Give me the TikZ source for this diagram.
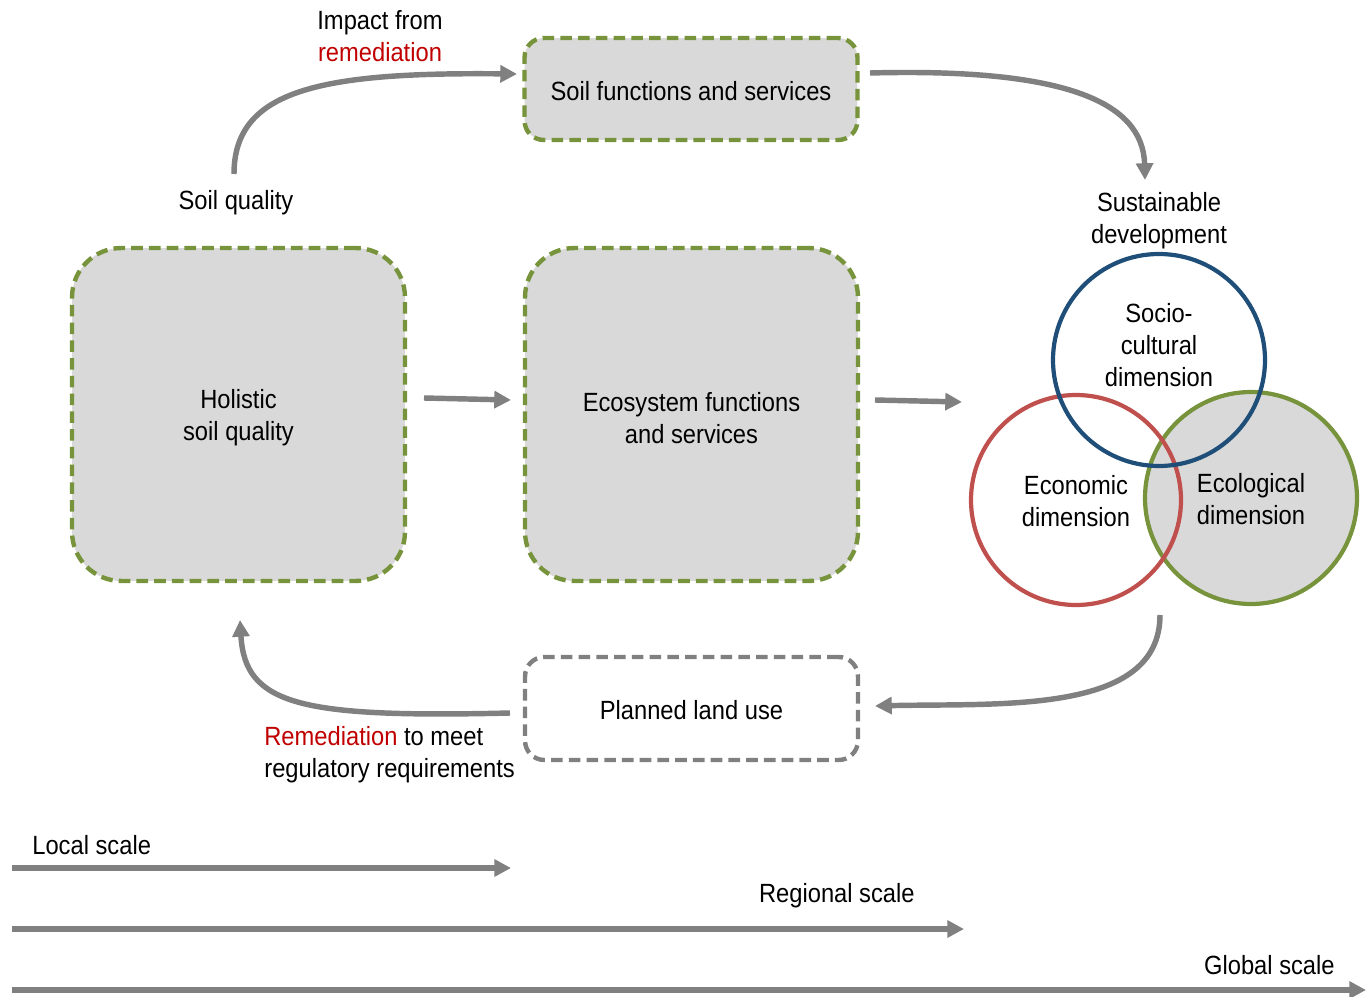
\documentclass[tikz,border=0pt]{standalone}
\usepackage{fontspec}
\setmainfont{Liberation Sans}[FakeStretch=0.9]
\usetikzlibrary{arrows.meta,calc}
\definecolor{boxgreen}{HTML}{77933C}
\definecolor{boxfill}{HTML}{D9D9D9}
\definecolor{flowgray}{HTML}{808080}
\definecolor{remred}{HTML}{C00000}
\definecolor{circblue}{HTML}{1F4E79}
\definecolor{circred}{HTML}{C0504D}
\begin{document}
\begin{tikzpicture}[x=0.02cm,y=-0.02cm,
  every node/.style={font=\fontsize{15}{18.2}\selectfont, align=center, inner sep=0pt},
  greenbox/.style={draw=boxgreen, fill=boxfill, line width=2.5pt,
    dash pattern=on 6.6pt off 3.5pt},
  graybox/.style={draw=flowgray, fill=white, line width=2.5pt,
    dash pattern=on 6.6pt off 3.5pt},
  flow/.style={draw=flowgray, line width=3.1pt,
    -{Triangle[length=9.5pt,width=9.5pt]}},
  ring/.style={line width=2.4pt}]
\useasboundingbox (0,0) rectangle (1366,997);

% boxes
\node[greenbox, rounded corners=11pt, minimum width=6.66cm, minimum height=2.04cm]
  (sfs) at (691,89) {};
\node[greenbox, rounded corners=28pt, minimum width=6.66cm, minimum height=6.66cm]
  (hol) at (238.5,414.5) {};
\node[greenbox, rounded corners=28pt, minimum width=6.66cm, minimum height=6.66cm]
  (eco) at (691.5,414.5) {};
\node[graybox, rounded corners=11pt, minimum width=6.66cm, minimum height=2.06cm]
  (plu) at (691.5,708.5) {};
\node (sfst) at (691,91) {Soil functions and services};
\node (holt) at (238.5,418) {Holistic\\soil quality};
\node (ecot) at (691.5,418) {Ecosystem functions\\and services};
\node (plut) at (691.5,710) {Planned land use};

% sustainability circles
\fill[boxfill] (1251,498) circle[radius=106];
\draw[ring, boxgreen] (1251,498) circle[radius=106];
\draw[ring, circred] (1076,500) circle[radius=105];
\draw[ring, circblue] (1159,360) circle[radius=106];
\node (soc) at (1159,345) {Socio-\\cultural\\dimension};
\node (econ) at (1076,501) {Economic\\dimension};
\node (ecol) at (1251,499) {Ecological\\dimension};

% labels
\node (sd) at (1159,221) {Sustainable\\development};
\node (sq) at (236,203) {Soil quality};
\node (imp) at (380,36) {Impact from\\\textcolor{remred}{remediation}};
\node[anchor=west, align=left] (rem) at (264,755)
  {\textcolor{remred}{Remediation} to meet\\regulatory requirements};

% connector end points
\coordinate (a1s) at (234,174);  \coordinate (a1e) at (517,74);
\coordinate (a2s) at (870,73);   \coordinate (a2e) at (1145,180);
\coordinate (a3s) at (424,398);  \coordinate (a3e) at (511,400);
\coordinate (a4s) at (875,400);  \coordinate (a4e) at (962,402);
\coordinate (a5s) at (1160,615); \coordinate (a5e) at (875,706);
\coordinate (a6s) at (510,713);  \coordinate (a6e) at (240,620);

\draw[flow] (a1s) .. controls (234,90) and (320,72) .. (a1e);
\draw[flow] (a2s) .. controls (1060,68) and (1143,100) .. (a2e);
\draw[flow] (a3s) -- (a3e);
\draw[flow] (a4s) -- (a4e);
\draw[flow] (a5s) .. controls (1160,715) and (1000,703) .. (a5e);
\draw[flow] (a6s) .. controls (300,718) and (245,705) .. (a6e);

% scale axes
\coordinate (l0) at (12,868);  \coordinate (l1) at (511,868);
\coordinate (r0) at (12,929);  \coordinate (r1) at (964,929);
\coordinate (g0) at (12,990);  \coordinate (g1) at (1366,990);
\draw[flow] (l0) -- (l1);
\draw[flow] (r0) -- (r1);
\draw[flow] (g0) -- (g1);
\node[anchor=west] (ls) at (32,845) {Local scale};
\node[anchor=east] (rs) at (915,896) {Regional scale};
\node[anchor=east] (gs) at (1335,965) {Global scale};
\end{tikzpicture}
\end{document}
